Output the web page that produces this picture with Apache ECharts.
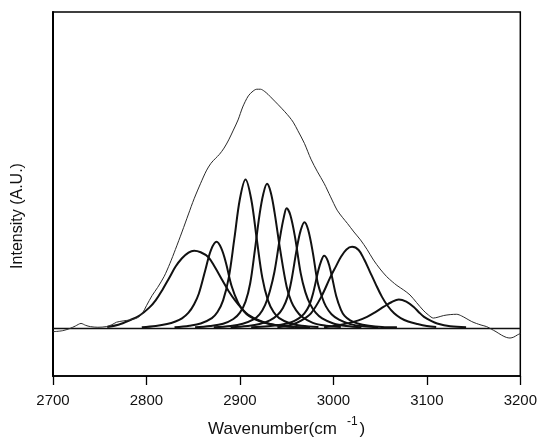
<!DOCTYPE html>
<html>
<head>
<meta charset="utf-8">
<script src="https://cdn.jsdelivr.net/npm/echarts@6/dist/echarts.min.js"></script>
<style>
html,body{margin:0;padding:0;background:#fff;}
#chart{width:540px;height:444px;}
</style>
</head>
<body>
<div id="chart"></div>
<script>
// Axis settings
const xMin = 2700, xMax = 3200, xStep = 100;
const yMin = -0.15, yMax = 1.0;

// Measured spectrum (thin line): [wavenumber, intensity]
const spectrum = [
  [2700,-0.010],[2710,-0.007],[2718,0.000],[2724,0.008],[2730,0.016],[2735,0.010],[2740,0.006],
  [2748,0.004],[2757,0.006],[2763,0.012],[2768,0.020],[2775,0.024],[2782,0.027],[2788,0.031],
  [2792,0.037],[2796,0.050],[2800,0.072],[2806,0.104],[2812,0.130],[2819,0.165],[2825,0.205],
  [2831,0.250],[2838,0.305],[2845,0.362],[2851,0.410],[2858,0.459],[2864,0.498],[2869,0.522],
  [2874,0.538],[2878,0.550],[2883,0.570],[2888,0.596],[2893,0.627],[2898,0.659],[2903,0.700],
  [2909,0.735],[2914,0.750],[2918,0.756],[2922,0.756],[2926,0.750],[2930,0.740],[2935,0.725],
  [2941,0.707],[2948,0.685],[2953,0.668],[2957,0.652],[2962,0.625],[2969,0.585],[2976,0.535],
  [2983,0.495],[2990,0.459],[2997,0.416],[3004,0.374],[3010,0.350],[3015,0.332],[3022,0.305],
  [3029,0.280],[3036,0.250],[3043,0.216],[3050,0.188],[3057,0.164],[3063,0.148],[3068,0.136],
  [3075,0.122],[3082,0.106],[3089,0.082],[3096,0.058],[3102,0.042],[3107,0.033],[3112,0.036],
  [3118,0.041],[3125,0.044],[3132,0.045],[3137,0.040],[3142,0.032],[3148,0.022],[3153,0.016],
  [3158,0.011],[3164,0.006],[3169,-0.002],[3174,-0.010],[3180,-0.021],[3185,-0.028],[3189,-0.030],
  [3193,-0.027],[3197,-0.020],[3200,-0.016]
];

// Fitted component bands (thick lines): [wavenumber, intensity]
const band1 = [
  [2758,0.005],[2770,0.012],[2782,0.026],[2793,0.042],[2803,0.066],[2810,0.090],[2817,0.122],
  [2824,0.158],[2831,0.195],[2838,0.222],[2845,0.240],[2851,0.246],[2858,0.241],[2866,0.226],
  [2873,0.195],[2881,0.153],[2888,0.118],[2895,0.088],[2902,0.063],[2909,0.043],[2920,0.026],
  [2932,0.014],[2945,0.008],[2958,0.005]
];
const band2 = [
  [2795,0.004],[2810,0.008],[2822,0.014],[2831,0.022],[2838,0.032],[2845,0.050],[2851,0.077],
  [2856,0.110],[2863,0.185],[2869,0.248],[2875,0.274],[2880,0.254],[2885,0.208],[2891,0.135],
  [2898,0.082],[2904,0.055],[2910,0.039],[2920,0.024],[2932,0.014],[2945,0.008],[2960,0.005],
  [2975,0.004]
];
const band3 = [
  [2830,0.004],[2846,0.009],[2858,0.016],[2870,0.033],[2876,0.052],[2882,0.089],[2888,0.160],
  [2894,0.283],[2900,0.410],[2906,0.471],[2912,0.410],[2918,0.283],[2924,0.160],[2930,0.089],
  [2936,0.052],[2942,0.033],[2954,0.016],[2966,0.009],[2984,0.005]
];
const band4 = [
  [2852,0.004],[2868,0.008],[2882,0.015],[2893,0.030],[2900,0.050],[2906,0.085],[2911,0.143],
  [2916,0.248],[2921,0.360],[2925,0.425],[2929,0.457],[2933,0.430],[2937,0.368],[2943,0.250],
  [2950,0.132],[2955,0.085],[2960,0.058],[2966,0.038],[2978,0.018],[2992,0.009],[3008,0.005]
];
const band5 = [
  [2872,0.004],[2890,0.008],[2903,0.015],[2914,0.028],[2921,0.045],[2927,0.075],[2932,0.118],
  [2937,0.180],[2943,0.290],[2947,0.352],[2950,0.380],[2954,0.358],[2959,0.288],[2965,0.175],
  [2970,0.115],[2975,0.078],[2981,0.050],[2988,0.032],[3000,0.016],[3014,0.008],[3030,0.004]
];
const band6 = [
  [2890,0.004],[2908,0.008],[2921,0.014],[2932,0.026],[2940,0.042],[2946,0.065],[2951,0.100],
  [2955,0.150],[2961,0.255],[2965,0.310],[2969,0.336],[2973,0.312],[2978,0.240],[2983,0.148],
  [2988,0.098],[2992,0.070],[2998,0.045],[3006,0.028],[3018,0.014],[3032,0.007],[3048,0.004]
];
const band7 = [
  [2912,0.004],[2930,0.007],[2944,0.012],[2955,0.020],[2963,0.032],[2969,0.048],[2974,0.072],
  [2978,0.108],[2984,0.185],[2987,0.214],[2990,0.230],[2994,0.214],[2998,0.170],[3003,0.103],
  [3008,0.060],[3012,0.040],[3018,0.026],[3026,0.016],[3038,0.009],[3052,0.005],[3068,0.004]
];
const band8 = [
  [2940,0.004],[2955,0.012],[2966,0.026],[2976,0.048],[2987,0.100],[2997,0.164],[3003,0.198],
  [3008,0.226],[3014,0.250],[3020,0.258],[3027,0.248],[3033,0.218],[3039,0.180],[3045,0.142],
  [3052,0.100],[3058,0.072],[3065,0.048],[3072,0.033],[3080,0.022],[3090,0.014],[3100,0.008],
  [3110,0.005]
];
const band9 = [
  [2990,0.004],[3005,0.010],[3016,0.017],[3026,0.025],[3036,0.037],[3045,0.052],[3054,0.069],
  [3062,0.083],[3070,0.092],[3078,0.085],[3086,0.068],[3092,0.050],[3097,0.037],[3104,0.025],
  [3111,0.016],[3125,0.007],[3142,0.004]
];
const bands = [band1, band2, band3, band4, band5, band6, band7, band8, band9];

// Zero baseline
const baseline = [[2700, 0], [3200, 0]];

const chart = echarts.init(document.getElementById('chart'), null, {renderer: 'canvas'});
const FONT = 'Liberation Sans, Arial, Helvetica, sans-serif';

const series = [];
series.push({
  type: 'line', data: baseline, symbol: 'none', silent: true,
  lineStyle: {color: '#111', width: 1.3}, z: 2
});
bands.forEach(function (b) {
  series.push({
    type: 'line', data: b, symbol: 'none', smooth: 0.35, silent: true,
    lineStyle: {color: '#111', width: 2}, z: 3
  });
});
series.push({
  type: 'line', data: spectrum, symbol: 'none', smooth: 0.3, silent: true,
  lineStyle: {color: '#2a2a2a', width: 1}, z: 4
});

chart.setOption({
  animation: false,
  backgroundColor: '#fff',
  grid: {left: 53, right: 16, top: 12, bottom: 68, show: true, borderColor: '#000', borderWidth: 1.5, backgroundColor: 'transparent'},
  xAxis: {
    type: 'value', min: xMin, max: xMax, interval: xStep,
    name: '{a|Wavenumber(cm}{b|-1}{c|)}',
    nameLocation: 'middle', nameGap: 40,
    nameTextStyle: {
      fontFamily: FONT, color: '#111',
      rich: {
        a: {fontSize: 17, fontFamily: FONT, color: '#111', verticalAlign: 'bottom'},
        b: {fontSize: 12, fontFamily: FONT, color: '#111', verticalAlign: 'top', padding: [0, 0, 10, 10]},
        c: {fontSize: 17, fontFamily: FONT, color: '#111', verticalAlign: 'bottom', padding: [0, 0, 0, 2]}
      }
    },
    axisLine: {show: true, onZero: false, lineStyle: {color: '#000', width: 1.5}},
    axisTick: {show: true, inside: false, length: 9, lineStyle: {color: '#000', width: 1.3}},
    axisLabel: {fontSize: 15, fontFamily: FONT, color: '#111', margin: 17,
      formatter: function (v) { return String(v); }},
    splitLine: {show: false}
  },
  yAxis: {
    type: 'value', min: yMin, max: yMax,
    name: 'Intensity (A.U.)',
    nameLocation: 'middle', nameGap: 27, nameRotate: 90,
    nameTextStyle: {fontSize: 16, fontFamily: FONT, color: '#111', padding: [0, 44, 0, 0]},
    axisLine: {show: true, onZero: false, lineStyle: {color: '#000', width: 2}},
    axisTick: {show: false},
    axisLabel: {show: false},
    splitLine: {show: false}
  },
  series: series
});
</script>
</body>
</html>
